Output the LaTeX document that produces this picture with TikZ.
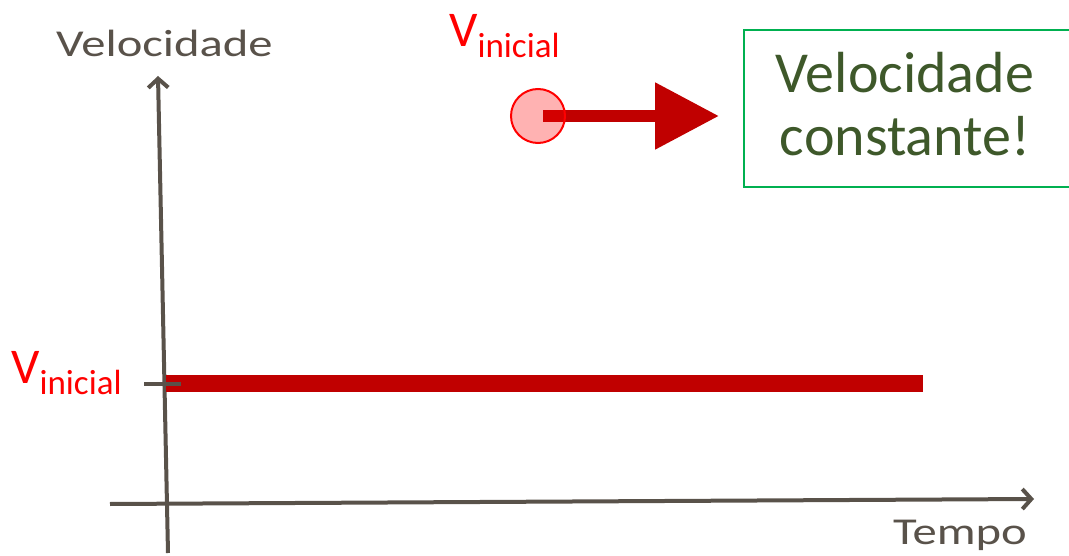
\documentclass[tikz,border=0pt]{standalone}
\usepackage{fontspec}
\setmainfont{Carlito}
\newfontfamily\axisfont[FakeStretch=1.28]{Carlito}
\usetikzlibrary{arrows.meta}

\definecolor{axisgray}{RGB}{89,82,74}
\definecolor{darkred}{RGB}{192,0,0}
\definecolor{boxgreen}{RGB}{0,176,80}
\definecolor{textgreen}{RGB}{62,88,42}

\newcommand{\vinicial}{{\fontsize{50}{50}\selectfont V}\raisebox{-11pt}{\fontsize{35}{35}\selectfont inicial}}

\begin{document}
\begin{tikzpicture}[x=1pt,y=-1pt]
\tikzstyle{every node}+=[inner sep=0pt]
\tikzstyle{axis}=[axisgray, line width=4pt, -{Straight Barb[length=9pt,width=20pt]}]
\tikzstyle{axislabel}=[anchor=base west, text=axisgray, font=\axisfont\fontsize{38}{38}\selectfont]
\tikzstyle{redlabel}=[anchor=base west, text=red]
\useasboundingbox (0,0) rectangle (1069,556);
% axes
\coordinate (yfoot) at (168,553);
\coordinate (ytop) at (158,76);
\coordinate (xstart) at (110,504);
\coordinate (xend) at (1034,499);
\draw [axis] (yfoot) -- (ytop);
\draw [axis] (xstart) -- (xend);
\node [axislabel] (ylabel) at (56,57) {Velocidade};
\node [axislabel] (xlabel) at (893,544) {Tempo};
% constant velocity
\coordinate (vstart) at (166,383.5);
\coordinate (vend) at (923,383.5);
\draw [darkred, line width=17pt] (vstart) -- (vend);
\coordinate (tickl) at (144,383.5);
\coordinate (tickr) at (181,383.5);
\draw [axisgray, line width=4pt] (tickl) -- (tickr);
\node [redlabel] (vleft) at (11,383) {\vinicial};
% moving ball
\node [circle, minimum size=56pt] (ball) at (538,116) {};
\coordinate (tip) at (719,116);
\draw [darkred, line width=12pt, -{Triangle[length=64pt,width=64pt]}] ([xshift=5pt]ball.center) -- (tip);
\draw [red, line width=2pt, fill=red, fill opacity=0.3] (ball) circle (27pt);
\node [redlabel] (vtop) at (449,47) {\vinicial};
% message
\node [draw=boxgreen, line width=2pt, minimum width=330pt, minimum height=157pt] (msg) at (909,108.5) {};
\node [align=center, text=textgreen, font=\fontsize{58}{63}\selectfont] (msgtext) at (905,104)
  {Velocidade\\constante!};
\end{tikzpicture}
\end{document}
